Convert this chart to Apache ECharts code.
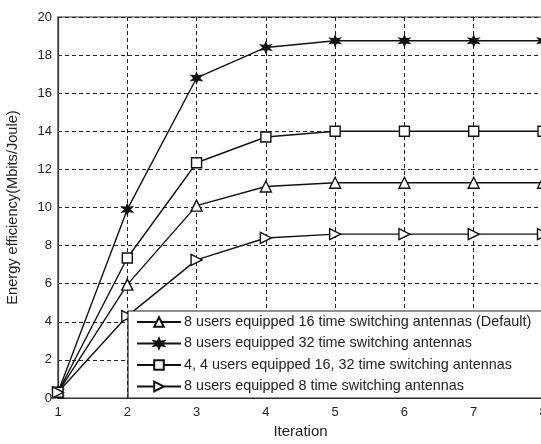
<!DOCTYPE html>
<html><head><meta charset="utf-8">
<script src="https://cdn.jsdelivr.net/npm/echarts@6/dist/echarts.min.js"></script>
<style>html,body{margin:0;padding:0;background:#fff}#c{width:541px;height:444px}</style>
</head><body><div id="c"></div>
<script>
var iterations = [1, 2, 3, 4, 5, 6, 7, 8];
var seriesNames = [
  "8 users equipped 16 time switching antennas (Default)",
  "8 users equipped 32 time switching antennas",
  "4, 4 users equipped 16, 32 time switching antennas",
  "8 users equipped 8 time switching antennas"
];
var users8ant16 = [0.3, 5.95, 10.1, 11.1, 11.3, 11.3, 11.3, 11.3];
var users8ant32 = [0.3, 9.9, 16.8, 18.4, 18.75, 18.75, 18.75, 18.75];
var users44ant1632 = [0.3, 7.35, 12.35, 13.7, 14.0, 14.0, 14.0, 14.0];
var users8ant8 = [0.3, 4.3, 7.25, 8.4, 8.6, 8.6, 8.6, 8.6];
var yTicks = [0, 2, 4, 6, 8, 10, 12, 14, 16, 18, 20];

var starPath = 'path://M50,0 L61,31 L93,25 L72,50 L93,75 L61,69 L50,100 L39,69 L7,75 L28,50 L7,25 L39,31 Z';
var rightTri = 'path://M0,0 L100,50 L0,100 Z';

function pairs(arr){ return arr.map(function(v,i){ return [iterations[i], v]; }); }
var txt = '#222';
function mk(name, data, symbol, size, fill){
  return {
    name: name, type: 'line', data: pairs(data),
    symbol: symbol, symbolSize: size, showSymbol: true,
    lineStyle: { color: '#111', width: 1.4 },
    itemStyle: { color: fill, borderColor: '#111', borderWidth: 1.4 },
    animation: false
  };
}
var chart = echarts.init(document.getElementById('c'));
chart.setOption({
  backgroundColor: '#fff',
  animation: false,
  grid: { left: 58, top: 17, width: 485, height: 381, outerBoundsMode: 'none', containLabel: false,
          show: true, borderColor: '#333', borderWidth: 1.2 },
  xAxis: {
    type: 'value', min: 1, max: 8, interval: 1,
    name: 'Iteration', nameLocation: 'middle', nameGap: 26,
    nameTextStyle: { fontFamily: 'Liberation Sans', fontSize: 15, color: txt },
    axisLine: { show: true, lineStyle: { color: '#333', width: 1.2 } },
    axisTick: { show: true, inside: true, length: 4, lineStyle: { color: '#333' } },
    axisLabel: { fontFamily: 'Liberation Sans', fontSize: 13, color: txt, margin: 8 },
    splitLine: { show: true, lineStyle: { color: '#222', type: [4, 3], width: 1 } }
  },
  yAxis: {
    type: 'value', min: 0, max: 20, interval: 2,
    name: 'Energy efficiency(Mbits/Joule)', nameLocation: 'middle', nameGap: 38,
    nameTextStyle: { fontFamily: 'Liberation Sans', fontSize: 14.6, color: txt },
    axisLine: { show: true, lineStyle: { color: '#333', width: 1.2 } },
    axisTick: { show: true, inside: true, length: 4, lineStyle: { color: '#333' } },
    axisLabel: { fontFamily: 'Liberation Sans', fontSize: 13, color: txt, margin: 6,
      formatter: function(v){ return yTicks.indexOf(v) >= 0 ? String(v) : ''; } },
    splitLine: { show: true, lineStyle: { color: '#222', type: [4, 3], width: 1 } }
  },
  legend: {
    orient: 'vertical', left: 128, top: 311,
    backgroundColor: '#fff', borderColor: '#222', borderWidth: 1.2,
    padding: [4, 40, 4.5, 8], itemGap: 7.5, itemWidth: 44, itemHeight: 12,
    textStyle: { fontFamily: 'Liberation Sans', fontSize: 14.4, color: txt, padding: [0, 0, 0, -2] },
    data: seriesNames
  },
  series: [
    mk(seriesNames[0], users8ant16, 'triangle', 11, '#fff'),
    mk(seriesNames[1], users8ant32, starPath, 10, '#111'),
    mk(seriesNames[2], users44ant1632, 'rect', 10, '#fff'),
    mk(seriesNames[3], users8ant8, rightTri, 11, '#fff')
  ]
});
</script></body></html>
